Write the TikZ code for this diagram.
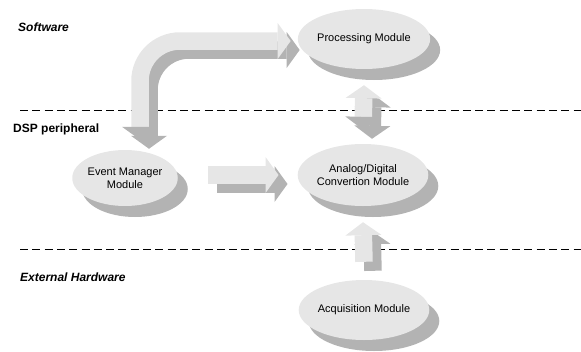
\documentclass[tikz,border=0pt]{standalone}
\usepackage{fontspec}
\setmainfont{Liberation Sans}
\usetikzlibrary{shapes.geometric,shadows,arrows.meta}
\definecolor{lightfill}{HTML}{E6E6E6}
\definecolor{shadegray}{HTML}{B3B3B3}
\tikzset{
	Fat/.tip={Triangle[length=13pt,width=36pt,line width=0pt]},
	module/.style={ellipse, fill=lightfill, inner sep=0pt, align=center, font=\fontsize{11}{13}\selectfont,
		drop shadow={shadow xshift=10pt, shadow yshift=-11pt, fill=shadegray, opacity=1}},
	layer/.style={anchor=west, inner sep=0pt, font=\fontsize{12}{14}\selectfont\bfseries},
	boundary/.style={line width=0.9pt, dash pattern=on 8pt off 4.3pt},
	blockarrow/.style={line width=17.5pt, draw=lightfill},
	shadearrow/.style={line width=17.5pt, draw=shadegray, transform canvas={shift={(9pt,-9pt)}}}
}
\def\shadedarrow[#1](#2)#3(#4){\draw[shadearrow,#1] (#2) #3 (#4); \draw[blockarrow,#1] (#2) #3 (#4);}

\begin{document}
\begin{tikzpicture}[x=1pt, y=-1pt]
		%%%%% START %%%%%
		\useasboundingbox (0, 0) rectangle (581, 351);
		
		\draw[boundary] (20, 110) -- (581, 110);
		\draw[boundary] (20, 249) -- (581, 249);
		
		\node[layer] (sw) at (18, 27) {\itshape Software};
		\node[layer] (dsp) at (13, 129) {DSP peripheral};
		\node[layer] (hw) at (20, 277) {\itshape External Hardware};
		
		\node[module, minimum width=110pt, minimum height=60pt] (proc) at (364, 39) {Processing Module};
		\node[module, minimum width=110pt, minimum height=62pt] (adc) at (363, 175) {Analog/Digital\\Convertion Module};
		\node[module, minimum width=102pt, minimum height=56pt] (evt) at (125, 178) {Event Manager\\Module};
		\node[module, minimum width=108pt, minimum height=60pt] (acq) at (364, 310) {Acquisition Module};
		
		\shadedarrow[{Fat[color=shadegray]}-{Fat}, rounded corners=40pt]([xshift=15pt,yshift=10pt]evt.north)|-([xshift=-7pt,yshift=-2pt]proc.west)
		\shadedarrow[{Fat}-{Fat[color=shadegray]}]([yshift=-16pt]proc.south)--([yshift=14pt]adc.north)
		\shadedarrow[-{Fat}]([xshift=30pt,yshift=3pt]evt.east)--([xshift=-19pt]adc.west)
		\shadedarrow[-{Fat}]([yshift=18pt]acq.north)--([yshift=-16pt]adc.south)
		
		%%%%% END %%%%%
	\end{tikzpicture}
\end{document}
